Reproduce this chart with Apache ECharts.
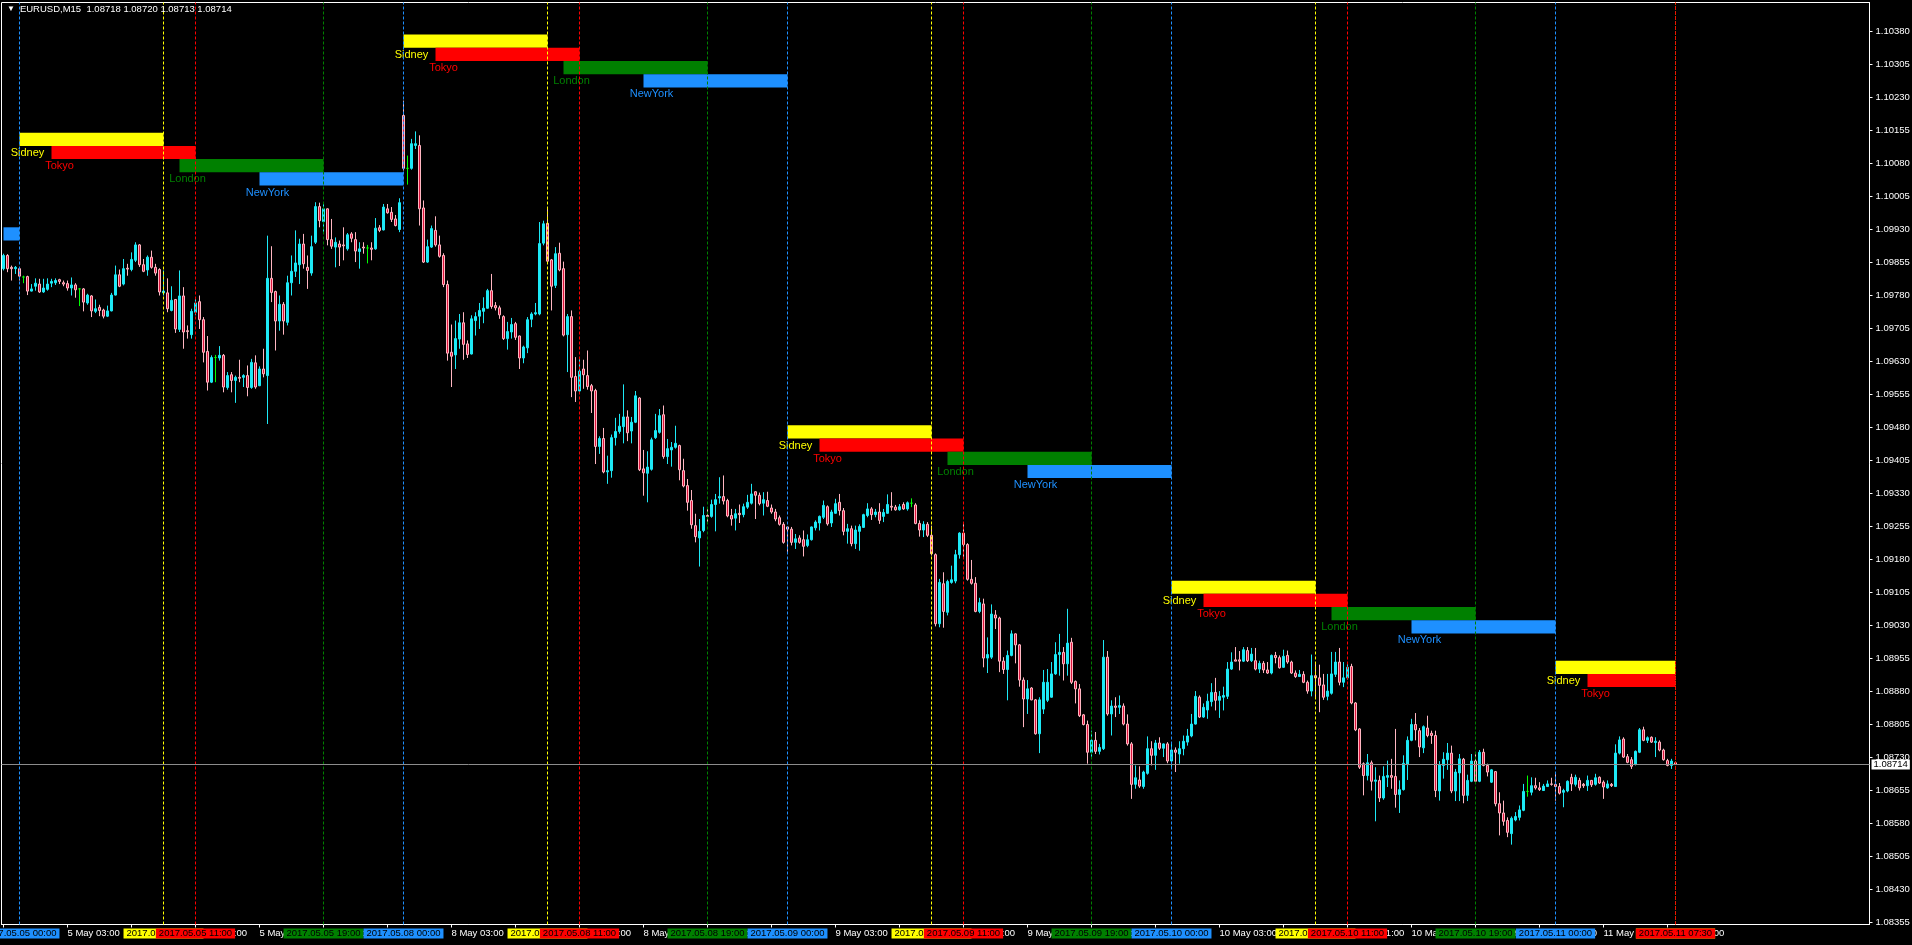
<!DOCTYPE html>
<html><head><meta charset="utf-8">
<script src="https://cdn.jsdelivr.net/npm/echarts@6/dist/echarts.min.js"></script>
<style>html,body{margin:0;padding:0;background:#000;}#chart{width:1912px;height:945px;}</style>
</head><body><div id="chart"></div>
<script>
const symbolTitle = 'EURUSD,M15';
const lastQuote = [1.08718, 1.08720, 1.08713, 1.08714];
const currentPrice = 1.08714;
const prevDay = '2017.05.04';
const preBars = 4;
const tradingDays = ['2017.05.05', '2017.05.08', '2017.05.09', '2017.05.10', '2017.05.11'];
const totalSlots = 467;

const openP = [
1.09841,1.09871,1.09844,1.09841,1.09841,1.09822,1.09823,1.09790,1.09801,1.09806,
1.09788,1.09794,1.09808,1.09809,1.09816,1.09809,1.09807,1.09797,1.09804,1.09795,
1.09795,1.09763,1.09779,1.09744,1.09753,1.09747,1.09733,1.09745,1.09781,1.09827,
1.09806,1.09842,1.09839,1.09860,1.09895,1.09850,1.09838,1.09867,1.09844,1.09839,
1.09786,1.09786,1.09746,1.09771,1.09703,1.09779,1.09700,1.09691,1.09742,1.09766,
1.09725,1.09653,1.09583,1.09639,1.09638,1.09644,1.09571,1.09600,1.09587,1.09594,
1.09594,1.09598,1.09571,1.09627,1.09575,1.09613,1.09598,1.09819,1.09789,1.09722,
1.09760,1.09719,1.09809,1.09835,1.09850,1.09897,1.09844,1.09831,1.09901,1.09982,
1.09948,1.09977,1.09907,1.09890,1.09897,1.09895,1.09886,1.09920,1.09907,1.09880,
1.09890,1.09888,1.09888,1.09886,1.09934,1.09929,1.09977,1.09969,1.09954,1.09930,
1.10189,1.10069,1.10069,1.10121,1.10121,1.09979,1.09856,1.09890,1.09928,1.09895,
1.09871,1.09805,1.09651,1.09645,1.09681,1.09718,1.09670,1.09647,1.09723,1.09733,
1.09744,1.09751,1.09791,1.09757,1.09752,1.09732,1.09682,1.09697,1.09716,1.09688,
1.09638,1.09661,1.09726,1.09738,1.09738,1.09899,1.09944,1.09861,1.09803,1.09876,
1.09841,1.09691,1.09732,1.09596,1.09563,1.09613,1.09598,1.09575,1.09564,1.09437,
1.09455,1.09379,1.09382,1.09457,1.09471,1.09482,1.09504,1.09472,1.09492,1.09547,
1.09386,1.09376,1.09385,1.09457,1.09469,1.09509,1.09414,1.09429,1.09435,1.09439,
1.09382,1.09348,1.09314,1.09257,1.09229,1.09246,1.09280,1.09278,1.09305,1.09320,
1.09323,1.09314,1.09280,1.09274,1.09285,1.09282,1.09299,1.09308,1.09334,1.09326,
1.09308,1.09314,1.09297,1.09288,1.09275,1.09260,1.09254,1.09249,1.09219,1.09229,
1.09225,1.09212,1.09225,1.09252,1.09263,1.09276,1.09300,1.09263,1.09285,1.09310,
1.09291,1.09244,1.09250,1.09216,1.09244,1.09253,1.09280,1.09295,1.09282,1.09288,
1.09278,1.09285,1.09301,1.09299,1.09293,1.09305,1.09295,1.09308,1.09304,1.09262,
1.09247,1.09260,1.09235,1.09191,1.09034,1.09125,1.09060,1.09128,1.09131,1.09191,
1.09240,1.09214,1.09135,1.09126,1.09062,1.09079,1.08956,1.08958,1.09054,1.09047,
1.08949,1.08930,1.08962,1.09011,1.08986,1.08906,1.08863,1.08888,1.08861,1.08784,
1.08840,1.08860,1.08867,1.08920,1.08964,1.08969,1.08943,1.08992,1.08903,1.08886,
1.08827,1.08805,1.08742,1.08769,1.08744,1.08750,1.08958,1.08829,1.08847,1.08844,
1.08847,1.08806,1.08761,1.08669,1.08679,1.08664,1.08694,1.08750,1.08735,1.08763,
1.08751,1.08761,1.08722,1.08747,1.08738,1.08750,1.08765,1.08779,1.08806,1.08867,
1.08822,1.08838,1.08857,1.08878,1.08860,1.08867,1.08869,1.08931,1.08952,1.08952,
1.08949,1.08973,1.08950,1.08950,1.08931,1.08944,1.08929,1.08922,1.08962,1.08957,
1.08935,1.08962,1.08947,1.08922,1.08914,1.08919,1.08901,1.08881,1.08916,1.08911,
1.08895,1.08869,1.08876,1.08919,1.08947,1.08901,1.08911,1.08937,1.08854,1.08795,
1.08716,1.08689,1.08718,1.08676,1.08678,1.08638,1.08685,1.08689,1.08687,1.08646,
1.08657,1.08714,1.08769,1.08805,1.08791,1.08752,1.08797,1.08785,1.08780,1.08654,
1.08712,1.08725,1.08740,1.08654,1.08695,1.08726,1.08644,1.08676,1.08722,1.08676,
1.08742,1.08712,1.08674,1.08698,1.08625,1.08604,1.08587,1.08557,1.08588,1.08594,
1.08610,1.08653,1.08651,1.08666,1.08661,1.08655,1.08664,1.08670,1.08669,1.08664,
1.08651,1.08654,1.08685,1.08669,1.08678,1.08669,1.08666,1.08678,1.08669,1.08685,
1.08674,1.08661,1.08669,1.08664,1.08740,1.08772,1.08732,1.08725,1.08714,1.08742,
1.08793,1.08769,1.08776,1.08764,1.08765,1.08747,1.08723,1.08712,1.08718];

const highP = [
1.09875,1.09874,1.09848,1.09847,1.09842,1.09825,1.09825,1.09806,1.09819,1.09818,
1.09818,1.09819,1.09818,1.09819,1.09818,1.09814,1.09814,1.09821,1.09808,1.09797,
1.09797,1.09784,1.09781,1.09771,1.09759,1.09750,1.09757,1.09786,1.09848,1.09839,
1.09863,1.09852,1.09878,1.09901,1.09897,1.09863,1.09871,1.09882,1.09852,1.09842,
1.09837,1.09819,1.09801,1.09772,1.09837,1.09799,1.09712,1.09750,1.09776,1.09780,
1.09731,1.09688,1.09644,1.09645,1.09665,1.09647,1.09606,1.09606,1.09598,1.09634,
1.09601,1.09621,1.09636,1.09644,1.09619,1.09659,1.09916,1.09892,1.09791,1.09780,
1.09765,1.09825,1.09871,1.09928,1.09909,1.09920,1.09871,1.09916,1.09992,1.09991,
1.09992,1.09978,1.09954,1.09912,1.09905,1.09935,1.09922,1.09924,1.09924,1.09901,
1.09901,1.09895,1.09901,1.09956,1.09940,1.09988,1.09988,1.09981,1.09963,1.10001,
1.10223,1.10098,1.10136,1.10153,1.10144,1.09996,1.09907,1.09939,1.09960,1.09916,
1.09876,1.09814,1.09714,1.09723,1.09738,1.09742,1.09678,1.09735,1.09742,1.09763,
1.09776,1.09795,1.09829,1.09765,1.09757,1.09735,1.09720,1.09729,1.09720,1.09689,
1.09666,1.09731,1.09742,1.09763,1.09947,1.09950,1.09979,1.09863,1.09890,1.09900,
1.09857,1.09738,1.09746,1.09640,1.09640,1.09634,1.09655,1.09579,1.09568,1.09460,
1.09479,1.09416,1.09464,1.09502,1.09511,1.09578,1.09519,1.09504,1.09563,1.09549,
1.09429,1.09426,1.09457,1.09511,1.09522,1.09530,1.09454,1.09447,1.09484,1.09441,
1.09409,1.09363,1.09338,1.09284,1.09272,1.09300,1.09295,1.09316,1.09329,1.09367,
1.09371,1.09318,1.09295,1.09295,1.09305,1.09307,1.09327,1.09352,1.09335,1.09332,
1.09333,1.09334,1.09305,1.09295,1.09280,1.09265,1.09254,1.09254,1.09238,1.09235,
1.09246,1.09237,1.09255,1.09269,1.09280,1.09314,1.09303,1.09293,1.09318,1.09329,
1.09297,1.09261,1.09257,1.09257,1.09260,1.09284,1.09308,1.09299,1.09295,1.09308,
1.09295,1.09328,1.09333,1.09304,1.09306,1.09310,1.09312,1.09319,1.09308,1.09269,
1.09267,1.09265,1.09257,1.09194,1.09136,1.09151,1.09134,1.09166,1.09202,1.09242,
1.09265,1.09217,1.09179,1.09140,1.09093,1.09091,1.09003,1.09078,1.09065,1.09050,
1.08958,1.08973,1.09019,1.09012,1.08988,1.08912,1.08906,1.08890,1.08863,1.08867,
1.08929,1.08931,1.08947,1.08992,1.09011,1.08981,1.09068,1.09002,1.08905,1.08897,
1.08829,1.08814,1.08791,1.08788,1.08761,1.08997,1.08972,1.08860,1.08867,1.08871,
1.08853,1.08828,1.08765,1.08712,1.08710,1.08700,1.08778,1.08767,1.08770,1.08776,
1.08762,1.08765,1.08761,1.08753,1.08767,1.08780,1.08795,1.08829,1.08881,1.08871,
1.08853,1.08875,1.08899,1.08911,1.08881,1.08891,1.08947,1.08969,1.08981,1.08972,
1.08981,1.08981,1.08979,1.08979,1.08950,1.08949,1.08947,1.08964,1.08970,1.08962,
1.08975,1.08973,1.08950,1.08928,1.08929,1.08926,1.08905,1.08964,1.08944,1.08941,
1.08920,1.08920,1.08970,1.08970,1.08979,1.08947,1.08943,1.08943,1.08856,1.08797,
1.08719,1.08738,1.08723,1.08708,1.08689,1.08710,1.08723,1.08727,1.08795,1.08678,
1.08735,1.08778,1.08818,1.08831,1.08797,1.08803,1.08825,1.08791,1.08791,1.08722,
1.08742,1.08763,1.08757,1.08704,1.08738,1.08729,1.08691,1.08738,1.08742,1.08747,
1.08750,1.08716,1.08704,1.08699,1.08651,1.08632,1.08594,1.08596,1.08606,1.08621,
1.08670,1.08689,1.08685,1.08684,1.08674,1.08670,1.08678,1.08684,1.08697,1.08672,
1.08659,1.08678,1.08693,1.08691,1.08684,1.08672,1.08689,1.08679,1.08693,1.08687,
1.08678,1.08678,1.08672,1.08760,1.08778,1.08776,1.08738,1.08731,1.08746,1.08797,
1.08800,1.08778,1.08778,1.08776,1.08769,1.08750,1.08727,1.08727,1.08720];

const lowP = [
1.09837,1.09833,1.09814,1.09829,1.09814,1.09808,1.09781,1.09789,1.09791,1.09786,
1.09786,1.09791,1.09799,1.09804,1.09806,1.09801,1.09791,1.09780,1.09775,1.09756,
1.09744,1.09759,1.09731,1.09740,1.09733,1.09728,1.09731,1.09744,1.09780,1.09799,
1.09803,1.09825,1.09835,1.09856,1.09845,1.09833,1.09825,1.09841,1.09825,1.09780,
1.09780,1.09742,1.09744,1.09695,1.09697,1.09659,1.09682,1.09682,1.09735,1.09704,
1.09628,1.09564,1.09581,1.09583,1.09632,1.09560,1.09566,1.09560,1.09536,1.09583,
1.09572,1.09551,1.09568,1.09568,1.09574,1.09594,1.09488,1.09765,1.09655,1.09700,
1.09691,1.09712,1.09780,1.09822,1.09806,1.09841,1.09795,1.09825,1.09897,1.09935,
1.09924,1.09894,1.09886,1.09844,1.09847,1.09860,1.09882,1.09901,1.09856,1.09841,
1.09875,1.09853,1.09860,1.09884,1.09924,1.09928,1.09966,1.09947,1.09937,1.09924,
1.10064,1.10032,1.10066,1.10113,1.09939,1.09854,1.09854,1.09888,1.09891,1.09866,
1.09799,1.09632,1.09572,1.09613,1.09659,1.09634,1.09638,1.09646,1.09689,1.09704,
1.09717,1.09750,1.09750,1.09746,1.09727,1.09679,1.09657,1.09682,1.09679,1.09613,
1.09626,1.09649,1.09708,1.09735,1.09735,1.09894,1.09852,1.09746,1.09797,1.09835,
1.09687,1.09606,1.09549,1.09538,1.09558,1.09568,1.09566,1.09513,1.09397,1.09420,
1.09376,1.09352,1.09366,1.09439,1.09466,1.09444,1.09449,1.09444,1.09490,1.09381,
1.09325,1.09310,1.09382,1.09454,1.09466,1.09409,1.09397,1.09391,1.09432,1.09360,
1.09344,1.09291,1.09250,1.09219,1.09164,1.09242,1.09265,1.09275,1.09244,1.09307,
1.09305,1.09276,1.09257,1.09246,1.09263,1.09276,1.09295,1.09305,1.09272,1.09303,
1.09280,1.09299,1.09284,1.09267,1.09257,1.09216,1.09194,1.09212,1.09204,1.09216,
1.09187,1.09208,1.09223,1.09246,1.09246,1.09272,1.09257,1.09254,1.09284,1.09280,
1.09235,1.09216,1.09210,1.09204,1.09200,1.09252,1.09276,1.09270,1.09276,1.09261,
1.09265,1.09284,1.09291,1.09291,1.09291,1.09293,1.09291,1.09299,1.09260,1.09232,
1.09231,1.09231,1.09189,1.09028,1.09026,1.09025,1.09053,1.09125,1.09126,1.09182,
1.09185,1.09132,1.09123,1.09060,1.09058,1.08935,1.08922,1.08954,1.09022,1.08924,
1.08920,1.08860,1.08960,1.08944,1.08891,1.08799,1.08829,1.08860,1.08782,1.08740,
1.08829,1.08856,1.08866,1.08918,1.08916,1.08905,1.08916,1.08897,1.08853,1.08822,
1.08803,1.08716,1.08731,1.08738,1.08737,1.08747,1.08825,1.08780,1.08822,1.08829,
1.08803,1.08757,1.08636,1.08659,1.08661,1.08659,1.08691,1.08712,1.08702,1.08747,
1.08731,1.08717,1.08706,1.08697,1.08716,1.08735,1.08757,1.08776,1.08805,1.08820,
1.08820,1.08818,1.08846,1.08837,1.08820,1.08837,1.08863,1.08929,1.08949,1.08928,
1.08947,1.08947,1.08947,1.08928,1.08922,1.08922,1.08920,1.08919,1.08944,1.08932,
1.08934,1.08943,1.08920,1.08911,1.08913,1.08899,1.08875,1.08869,1.08867,1.08833,
1.08861,1.08860,1.08873,1.08913,1.08894,1.08890,1.08907,1.08851,1.08790,1.08704,
1.08644,1.08678,1.08655,1.08585,1.08629,1.08634,1.08663,1.08659,1.08616,1.08604,
1.08655,1.08679,1.08767,1.08769,1.08731,1.08740,1.08776,1.08761,1.08640,1.08632,
1.08682,1.08702,1.08649,1.08631,1.08631,1.08626,1.08631,1.08674,1.08674,1.08674,
1.08710,1.08687,1.08672,1.08619,1.08553,1.08575,1.08549,1.08532,1.08585,1.08587,
1.08608,1.08641,1.08644,1.08657,1.08654,1.08654,1.08663,1.08666,1.08632,1.08646,
1.08617,1.08651,1.08654,1.08664,1.08655,1.08661,1.08654,1.08663,1.08666,1.08670,
1.08636,1.08659,1.08663,1.08663,1.08737,1.08729,1.08717,1.08704,1.08712,1.08740,
1.08767,1.08763,1.08763,1.08731,1.08744,1.08723,1.08710,1.08704,1.08713];

const closeP = [
1.09871,1.09841,1.09841,1.09844,1.09824,1.09822,1.09790,1.09795,1.09808,1.09788,
1.09797,1.09806,1.09812,1.09814,1.09812,1.09806,1.09797,1.09804,1.09793,1.09795,
1.09765,1.09781,1.09745,1.09750,1.09746,1.09733,1.09745,1.09781,1.09827,1.09801,
1.09841,1.09840,1.09862,1.09895,1.09850,1.09835,1.09867,1.09844,1.09831,1.09788,
1.09790,1.09750,1.09769,1.09704,1.09779,1.09697,1.09698,1.09744,1.09763,1.09725,
1.09651,1.09583,1.09639,1.09639,1.09644,1.09572,1.09598,1.09587,1.09594,1.09592,
1.09598,1.09571,1.09628,1.09572,1.09613,1.09602,1.09819,1.09787,1.09722,1.09760,
1.09722,1.09809,1.09835,1.09854,1.09897,1.09852,1.09837,1.09891,1.09982,1.09950,
1.09977,1.09907,1.09892,1.09901,1.09890,1.09893,1.09918,1.09910,1.09881,1.09886,
1.09888,1.09888,1.09885,1.09933,1.09928,1.09981,1.09968,1.09953,1.09939,1.09991,
1.10069,1.10069,1.10125,1.10125,1.09977,1.09856,1.09891,1.09932,1.09895,1.09869,
1.09805,1.09649,1.09642,1.09682,1.09718,1.09669,1.09646,1.09727,1.09732,1.09746,
1.09751,1.09791,1.09755,1.09752,1.09736,1.09682,1.09698,1.09714,1.09685,1.09638,
1.09663,1.09725,1.09738,1.09741,1.09898,1.09943,1.09858,1.09801,1.09875,1.09838,
1.09690,1.09732,1.09594,1.09563,1.09608,1.09600,1.09573,1.09563,1.09437,1.09455,
1.09379,1.09382,1.09457,1.09471,1.09483,1.09504,1.09468,1.09492,1.09552,1.09384,
1.09377,1.09390,1.09452,1.09473,1.09507,1.09414,1.09432,1.09435,1.09444,1.09384,
1.09347,1.09310,1.09259,1.09232,1.09244,1.09280,1.09278,1.09305,1.09316,1.09323,
1.09313,1.09279,1.09272,1.09284,1.09282,1.09300,1.09310,1.09329,1.09326,1.09307,
1.09316,1.09301,1.09288,1.09272,1.09260,1.09219,1.09249,1.09219,1.09227,1.09219,
1.09210,1.09225,1.09254,1.09265,1.09278,1.09303,1.09261,1.09288,1.09307,1.09291,
1.09244,1.09250,1.09216,1.09247,1.09255,1.09282,1.09295,1.09282,1.09288,1.09269,
1.09287,1.09305,1.09299,1.09293,1.09300,1.09295,1.09309,1.09308,1.09262,1.09247,
1.09260,1.09235,1.09193,1.09034,1.09128,1.09062,1.09130,1.09134,1.09191,1.09240,
1.09214,1.09135,1.09126,1.09062,1.09082,1.08956,1.08964,1.09056,1.09047,1.08949,
1.08930,1.08962,1.09011,1.08986,1.08906,1.08863,1.08886,1.08861,1.08784,1.08861,
1.08901,1.08901,1.08920,1.08964,1.08969,1.08943,1.08990,1.08901,1.08886,1.08825,
1.08805,1.08742,1.08769,1.08744,1.08753,1.08958,1.08829,1.08847,1.08844,1.08848,
1.08806,1.08761,1.08669,1.08684,1.08665,1.08697,1.08750,1.08735,1.08763,1.08751,
1.08761,1.08722,1.08747,1.08742,1.08750,1.08767,1.08779,1.08806,1.08869,1.08822,
1.08844,1.08858,1.08878,1.08860,1.08869,1.08871,1.08931,1.08947,1.08949,1.08949,
1.08975,1.08950,1.08965,1.08931,1.08944,1.08929,1.08922,1.08962,1.08957,1.08934,
1.08960,1.08947,1.08922,1.08914,1.08919,1.08901,1.08881,1.08916,1.08911,1.08894,
1.08867,1.08881,1.08920,1.08947,1.08901,1.08911,1.08935,1.08854,1.08793,1.08708,
1.08689,1.08718,1.08676,1.08679,1.08638,1.08687,1.08689,1.08685,1.08646,1.08657,
1.08717,1.08769,1.08805,1.08793,1.08754,1.08800,1.08780,1.08780,1.08655,1.08714,
1.08726,1.08740,1.08654,1.08697,1.08727,1.08644,1.08678,1.08722,1.08676,1.08742,
1.08712,1.08697,1.08702,1.08625,1.08604,1.08585,1.08560,1.08592,1.08596,1.08611,
1.08653,1.08653,1.08666,1.08661,1.08657,1.08665,1.08670,1.08669,1.08664,1.08649,
1.08655,1.08676,1.08670,1.08685,1.08661,1.08666,1.08678,1.08668,1.08684,1.08672,
1.08663,1.08670,1.08666,1.08740,1.08770,1.08731,1.08719,1.08710,1.08744,1.08793,
1.08769,1.08775,1.08765,1.08767,1.08747,1.08725,1.08712,1.08722,1.08714];

const yTicks = [1.08355,1.08430,1.08505,1.08580,1.08655,1.08730,1.08805,1.08880,1.08955,1.09030,
1.09105,1.09180,1.09255,1.09330,1.09405,1.09480,1.09555,1.09630,1.09705,1.09780,
1.09855,1.09930,1.10005,1.10080,1.10155,1.10230,1.10305,1.10380];

const sessionNames = ['Sidney', 'Tokyo', 'London', 'NewYork'];
const sessionColors = ['#ffff00', '#ff0000', '#008000', '#1e90ff'];
const sessionHours = [[0, 9], [2, 11], [10, 19], [15, 24]];
const sessionTop = [1.10025, 1.10150, 1.10373, 1.09485, 1.09132, 1.08950];
const sessionStep = 0.0003;

const FONT = 'Liberation Sans, Arial, sans-serif';
const lastBar = openP.length - 1;
const candles = openP.map((o, i) => [o, closeP[i], lowP[i], highP[i]]);

function hhmm(m) { return String(Math.floor(m / 60)).padStart(2, '0') + ':' + String(m % 60).padStart(2, '0'); }
const cats = [];
for (let i = 0; i < preBars; i++) cats.push(prevDay + ' ' + hhmm(24 * 60 - 15 * (preBars - i)));
tradingDays.forEach(d => { for (let j = 0; j < 96; j++) cats.push(d + ' ' + hhmm(j * 15)); });
cats.length = totalSlots;

const MON = ['Jan','Feb','Mar','Apr','May','Jun','Jul','Aug','Sep','Oct','Nov','Dec'];
function shortLabel(s) {
  const m = s.match(/^(\d{4})\.(\d{2})\.(\d{2}) (\d{2}:\d{2})$/);
  return m ? (parseInt(m[3], 10) + ' ' + MON[parseInt(m[2], 10) - 1] + ' ' + m[4]) : '';
}

const areas = [];
const vlines = [];
const allDays = [prevDay].concat(tradingDays);
allDays.forEach((day, di) => {
  const s0 = preBars + (di - 1) * 96;
  sessionNames.forEach((name, si) => {
    const a = s0 + sessionHours[si][0] * 4, b = s0 + sessionHours[si][1] * 4;
    if (b <= 0 || a > lastBar) return;
    const aa = Math.max(a, 0), bb = Math.min(b, lastBar);
    const top = sessionTop[di] - si * sessionStep, bot = top - sessionStep;
    areas.push([
      { xAxis: aa, yAxis: top, itemStyle: { color: sessionColors[si], opacity: 1, borderWidth: 0 },
        label: { show: a >= 0, formatter: name, color: sessionColors[si], fontSize: 11, fontFamily: FONT,
                 position: ['0%', '100%'], align: 'center', verticalAlign: 'middle', offset: [8, 7] } },
      { xAxis: bb, yAxis: bot }
    ]);
    vlines.push({ idx: bb, si: si });
  });
});
vlines.sort((p, q) => p.idx - q.idx || p.si - q.si);

const lineData = vlines.map(v => ({
  xAxis: v.idx,
  lineStyle: { color: sessionColors[v.si], type: [3, 2], width: 1 },
  label: { show: true, position: 'start', distance: 4, formatter: cats[v.idx],
           backgroundColor: sessionColors[v.si], color: '#000', padding: [0, 3],
           fontSize: 9.5, lineHeight: 10, fontFamily: FONT }
}));
lineData.push({
  yAxis: currentPrice,
  lineStyle: { color: '#8c8c8c', type: 'solid', width: 1 },
  label: { show: true, position: 'end', distance: 2, formatter: currentPrice.toFixed(5),
           backgroundColor: '#ffffff', color: '#000', padding: [0, 2],
           fontSize: 9.5, lineHeight: 10, fontFamily: FONT }
});

const chart = echarts.init(document.getElementById('chart'), null, { renderer: 'canvas', width: 1912, height: 945 });
chart.setOption({
  backgroundColor: '#000000',
  animation: false,
  title: {
    left: 7, top: 4, padding: 0,
    text: '{a|▼}' + symbolTitle + '  ' + lastQuote.map(v => v.toFixed(5)).join(' '),
    textStyle: { color: '#ffffff', fontSize: 9.5, fontWeight: 'normal', fontFamily: FONT,
                 rich: { a: { fontSize: 8, color: '#ffffff', padding: [0, 5, 0, 0] } } }
  },
  grid: { left: 1.5, right: 42.5, top: 2.5, bottom: 20.5, show: true, borderColor: '#ffffff', borderWidth: 1,
          containLabel: false, outerBoundsMode: 'none' },
  xAxis: {
    type: 'category', data: cats, boundaryGap: true,
    axisLine: { show: true, lineStyle: { color: '#ffffff', width: 1 } },
    axisTick: { show: true, alignWithLabel: true, length: 3, lineStyle: { color: '#ffffff' },
                interval: (i) => i % 16 === 0 && i <= lastBar },
    axisLabel: { show: true, interval: (i) => i % 16 === 0 && i <= lastBar, hideOverlap: false,
                 formatter: (v) => shortLabel(v), color: '#ffffff', fontSize: 9.5, fontFamily: FONT,
                 align: 'left', margin: 4, lineHeight: 10 },
    splitLine: { show: false }
  },
  yAxis: {
    type: 'value', position: 'right', scale: true, min: 1.083505, max: 1.104459,
    splitLine: { show: false },
    axisLine: { show: true, lineStyle: { color: '#ffffff', width: 1 } },
    axisTick: { show: true, customValues: yTicks, length: 3, lineStyle: { color: '#ffffff' } },
    axisLabel: { show: true, customValues: yTicks, formatter: (v) => v.toFixed(5), color: '#ffffff',
                 fontSize: 9.5, fontFamily: FONT, margin: 6, hideOverlap: false }
  },
  series: [{
    type: 'candlestick',
    data: candles,
    barWidth: 2,
    clip: false,
    silent: true,
    itemStyle: { color: '#1de9f6', color0: '#dc143c', borderColor: '#1de9f6', borderColor0: '#ffb6c1',
                 borderColorDoji: '#00ff00', borderWidth: 1 },
    markArea: { silent: true, data: areas },
    markLine: { silent: true, symbol: ['none', 'none'], precision: 5, animation: false, data: lineData }
  }]
});
</script>
</body></html>
